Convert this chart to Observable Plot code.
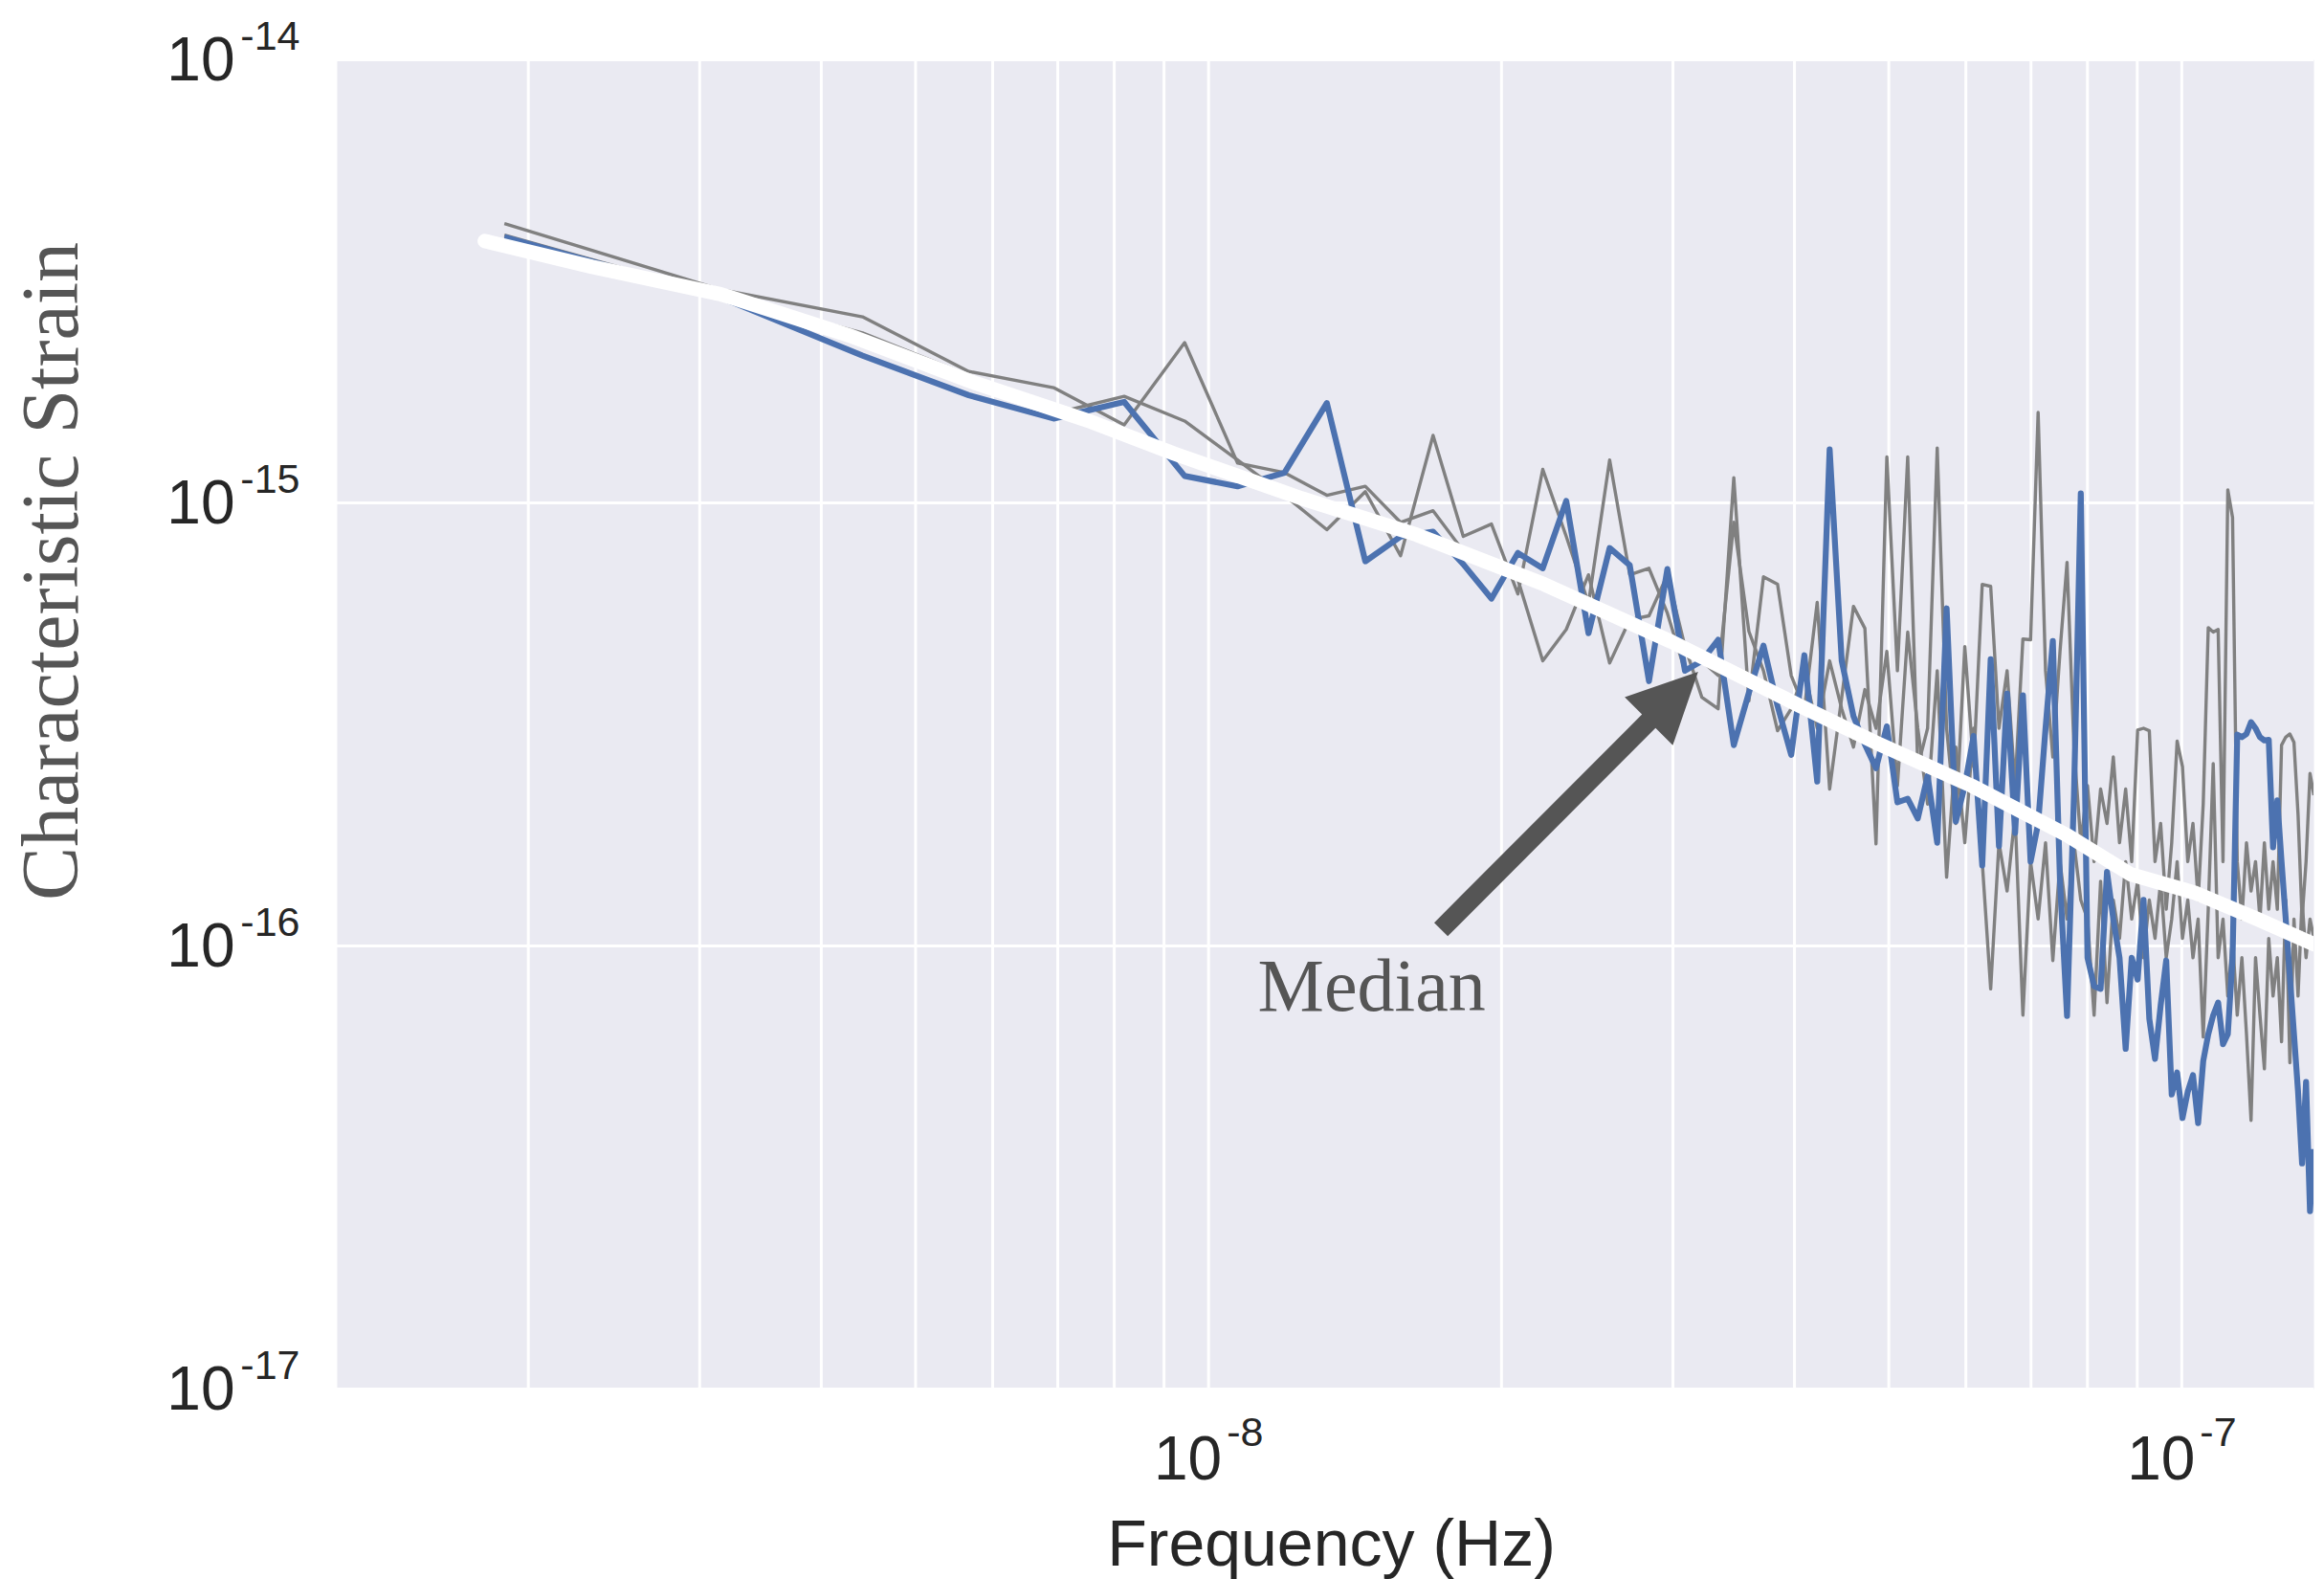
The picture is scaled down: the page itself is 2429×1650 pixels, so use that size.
<!DOCTYPE html>
<html>
<head>
<meta charset="utf-8">
<script src="https://cdn.jsdelivr.net/npm/d3@7"></script>
<script src="https://cdn.jsdelivr.net/npm/@observablehq/plot@0.6"></script>
<style>
  html, body { margin: 0; padding: 0; background: #ffffff; }
  #chart svg { display: block; }
</style>
</head>
<body>
<div id="chart"></div>
<script>
// Frequency bins of the simulated spectra, in nHz
const freqNHz = [
  1.89, 3.15, 4.41, 5.67, 6.93, 8.19, 9.45, 10.71, 11.97, 13.23,
  14.49, 15.75, 17.01, 18.27, 19.53, 20.79, 22.05, 23.31, 24.57, 25.83,
  27.09, 28.35, 29.61, 30.87, 32.13, 33.39, 34.65, 35.91, 37.17, 38.43,
  39.69, 40.95, 42.21, 43.47, 44.73, 45.99, 47.25, 48.51, 49.77, 51.03,
  52.29, 53.55, 54.81, 56.07, 57.33, 58.59, 59.85, 61.11, 62.37, 63.63,
  64.89, 66.15, 67.41, 68.67, 69.93, 71.19, 72.45, 73.71, 74.97, 76.23,
  77.49, 78.75, 80.01, 81.27, 82.53, 83.79, 85.05, 86.31, 87.57, 88.83,
  90.09, 91.35, 92.61, 93.87, 95.13, 96.39, 97.65, 98.91, 100.17, 101.43,
  102.69, 103.95, 105.21, 106.47, 107.73, 108.99, 110.25, 111.51, 112.77, 114.03,
  115.29, 116.55, 117.81, 119.07, 120.33, 121.59, 122.85, 124.11, 125.37, 126.63,
  127.89, 129.15, 130.41, 131.67, 132.93, 134.19, 135.45, 136.71
];

// Characteristic strain of one highlighted realization, in units of 1e-16
const strainBlue = [
  39.8, 29.1, 21.5, 17.5, 15.5, 16.9, 11.5, 10.9, 11.7, 16.8,
  7.38, 8.39, 8.61, 7.27, 6.08, 7.71, 7.12, 10.1, 5.08, 7.91,
  7.23, 3.96, 7.09, 4.18, 4.40, 4.91, 2.84, 3.73, 4.76, 3.48,
  2.70, 4.53, 2.35, 13.2, 4.40, 3.30, 2.85, 2.52, 3.13, 2.11,
  2.15, 1.94, 2.42, 1.71, 5.78, 1.91, 2.30, 2.98, 1.52, 4.44,
  1.68, 3.71, 1.80, 3.68, 1.55, 1.89, 3.10, 4.88, 1.40, 0.695,
  2.19, 10.5, 0.941, 0.811, 0.80, 1.47, 1.15, 0.94, 0.586, 0.94,
  0.84, 1.27, 0.685, 0.556, 0.734, 0.927, 0.462, 0.518, 0.409, 0.469,
  0.511, 0.398, 0.55, 0.632, 0.698, 0.745, 0.60, 0.632, 0.941, 3.0,
  2.96, 3.01, 3.20, 3.10, 2.96, 2.91, 2.92, 1.67, 2.13, 1.55,
  1.15, 0.852, 0.632, 0.469, 0.323, 0.493, 0.252, 0.348
];

// Two further realizations, drawn in gray (units of 1e-16)
const strainGrayA = [
  42.7, 30.3, 26.3, 19.8, 18.2, 15.0, 23.0, 12.3, 11.7, 10.4,
  10.9, 9.04, 9.60, 7.79, 7.48, 6.71, 4.40, 5.18, 6.88, 4.35,
  5.45, 5.56, 6.88, 4.74, 3.64, 3.43, 11.4, 3.57, 6.81, 6.55,
  4.08, 3.43, 5.96, 2.26, 3.64, 5.84, 5.21, 1.70, 12.7, 4.18,
  12.7, 2.54, 3.10, 13.3, 3.10, 1.89, 4.74, 2.54, 6.55, 6.48,
  3.10, 4.18, 2.30, 4.93, 4.91, 16.0, 4.18, 2.67, 4.62, 7.34,
  2.81, 1.71, 2.30, 1.55, 2.26, 1.89, 2.67, 1.71, 2.26, 1.55,
  3.07, 3.10, 3.06, 1.55, 1.89, 1.21, 1.71, 2.90, 2.54, 1.55,
  1.89, 1.27, 2.09, 5.23, 5.11, 5.18, 1.55, 10.7, 9.27, 1.55,
  1.15, 1.71, 1.33, 1.55, 1.15, 1.71, 1.21, 1.55, 1.21, 2.84,
  2.96, 3.01, 2.88, 1.98, 1.15, 1.55, 2.45, 2.19
];
const strainGrayB = [
  40.2, 29.4, 24.2, 19.4, 15.9, 17.4, 15.3, 12.5, 10.4, 8.70,
  10.6, 7.60, 14.2, 8.40, 8.96, 6.23, 11.9, 8.40, 5.93, 12.5,
  6.88, 7.12, 5.64, 4.18, 4.40, 4.08, 9.04, 5.13, 4.18, 3.06,
  3.43, 4.18, 3.10, 4.40, 3.43, 2.81, 3.79, 3.10, 4.62, 2.30,
  5.11, 3.10, 2.09, 4.18, 1.43, 2.81, 1.71, 3.10, 1.55, 0.80,
  1.71, 1.33, 1.98, 0.698, 1.55, 1.15, 1.71, 0.927, 1.55, 1.15,
  1.71, 1.27, 1.15, 0.698, 1.40, 0.745, 1.27, 1.04, 1.55, 1.15,
  1.40, 0.941, 1.27, 1.04, 1.40, 0.941, 1.15, 1.55, 1.04, 1.27,
  0.941, 1.15, 0.623, 1.21, 2.58, 0.941, 1.15, 0.771, 1.04, 0.698,
  0.941, 0.632, 0.404, 0.941, 0.698, 0.528, 1.04, 0.771, 0.941, 0.608,
  1.27, 0.545, 1.15, 0.771, 1.27, 0.941, 1.15, 1.04
];

// Median over realizations (frequency in nHz, strain in units of 1e-16)
const medianFreqNHz = [1.804, 2.327, 3.150, 4.267, 5.772, 7.572, 9.218, 12.46, 16.35, 22.12,
  29.9, 40.45, 48.45, 60.8, 76.2, 88.7, 103, 119.8, 136.7];
const medianStrain = [39.0, 34.1, 29.6, 23.9, 18.6, 15.25, 12.92, 10.24, 8.48, 6.55,
  4.86, 3.49, 2.88, 2.30, 1.78, 1.45, 1.32, 1.148, 1.009];

// Axis ticks and grid
const xTickValues = [1e-8, 1e-7];
const xGridValues = [2e-9, 3e-9, 4e-9, 5e-9, 6e-9, 7e-9, 8e-9, 9e-9,
  1e-8, 2e-8, 3e-8, 4e-8, 5e-8, 6e-8, 7e-8, 8e-8, 9e-8, 1e-7];
const yTickValues = [1e-17, 1e-16, 1e-15, 1e-14];

// Annotation: arrow pointing at the median curve, and its label
const medianArrow = {from: [1.735e-8, 1.087e-16], to: [3.188e-8, 4.147e-16]};
const medianLabel = [{f: 1.471e-8, h: 7.16e-17, text: "Median"}];

const toRows = (name, values) => values.map((v, i) => ({series: name, f: freqNHz[i] * 1e-9, h: v * 1e-16}));
const grayRows = [...toRows("gray A", strainGrayA), ...toRows("gray B", strainGrayB)];
const blueRows = toRows("blue", strainBlue);
const medianRows = medianStrain.map((v, i) => ({f: medianFreqNHz[i] * 1e-9, h: v * 1e-16}));

const sans = "'Liberation Sans', Arial, Helvetica, sans-serif";
const serif = "'Liberation Serif', 'Times New Roman', serif";
const exponent = d => "-" + Math.round(-Math.log10(d));

// Filled arrow (shaft + triangular head) positioned through the plot scales
function arrowMark(index, scales) {
  const x1 = scales.x(medianArrow.from[0]), y1 = scales.y(medianArrow.from[1]);
  const x2 = scales.x(medianArrow.to[0]), y2 = scales.y(medianArrow.to[1]);
  const len = Math.hypot(x2 - x1, y2 - y1);
  const ux = (x2 - x1) / len, uy = (y2 - y1) / len;
  const nx = -uy, ny = ux;
  const headLen = 73, headHalf = 35.5, shaftHalf = 10;
  const bx = x2 - ux * headLen, by = y2 - uy * headLen;
  const pts = [
    [x1 + nx * shaftHalf, y1 + ny * shaftHalf],
    [bx + nx * shaftHalf, by + ny * shaftHalf],
    [bx + nx * headHalf, by + ny * headHalf],
    [x2, y2],
    [bx - nx * headHalf, by - ny * headHalf],
    [bx - nx * shaftHalf, by - ny * shaftHalf],
    [x1 - nx * shaftHalf, y1 - ny * shaftHalf]
  ];
  return d3.create("svg:path")
    .attr("d", "M" + pts.map(p => p.join(",")).join("L") + "Z")
    .attr("fill", "#555555")
    .node();
}

const chart = Plot.plot({
  width: 2429,
  height: 1650,
  marginLeft: 352,
  marginRight: 11,
  marginTop: 62,
  marginBottom: 199,
  style: {background: "#ffffff", fontFamily: sans, overflow: "visible"},
  x: {type: "log", domain: [1.2727e-9, 1.3672e-7], axis: null},
  y: {type: "log", domain: [1e-17, 1e-14], axis: null},
  marks: [
    Plot.frame({fill: "#EAEAF2", stroke: "none"}),
    Plot.ruleX(xGridValues, {stroke: "#ffffff", strokeWidth: 3}),
    Plot.ruleY(yTickValues, {stroke: "#ffffff", strokeWidth: 3}),
    Plot.line(grayRows, {x: "f", y: "h", z: "series", stroke: "#808080", strokeWidth: 3.4,
      strokeLinejoin: "round", strokeLinecap: "butt", clip: true}),
    Plot.line(blueRows, {x: "f", y: "h", stroke: "#4C72B0", strokeWidth: 6.2,
      strokeLinejoin: "round", strokeLinecap: "butt", clip: true}),
    Plot.line(medianRows, {x: "f", y: "h", stroke: "#ffffff", strokeWidth: 15,
      strokeLinejoin: "round", strokeLinecap: "round", clip: true}),
    arrowMark,
    Plot.text(medianLabel, {x: "f", y: "h", text: "text", textAnchor: "middle", lineAnchor: "bottom",
      fontSize: 78, fontFamily: serif, fill: "#555555"}),
    // y tick labels: base and exponent
    Plot.text(yTickValues, {y: d => d, text: () => "10", frameAnchor: "left", dx: -107, dy: 21,
      textAnchor: "end", lineAnchor: "bottom", fontSize: 64, fontFamily: sans, fill: "#262626"}),
    Plot.text(yTickValues, {y: d => d, text: exponent, frameAnchor: "left", dx: -39, dy: -11,
      textAnchor: "end", lineAnchor: "bottom", fontSize: 43, fontFamily: sans, fill: "#262626"}),
    // x tick labels: base and exponent
    Plot.text(xTickValues, {x: d => d, text: () => "10", frameAnchor: "bottom", dx: 14, dy: 94,
      textAnchor: "end", lineAnchor: "bottom", fontSize: 64, fontFamily: sans, fill: "#262626"}),
    Plot.text(xTickValues, {x: d => d, text: exponent, frameAnchor: "bottom", dx: 19, dy: 59,
      textAnchor: "start", lineAnchor: "bottom", fontSize: 43, fontFamily: sans, fill: "#262626"}),
    // axis titles
    Plot.text(["Frequency (Hz)"], {text: d => d, frameAnchor: "bottom", dx: 6, dy: 184,
      textAnchor: "middle", lineAnchor: "bottom", fontSize: 68, fontFamily: sans, fill: "#262626"}),
    Plot.text(["Characteristic Strain"], {text: d => d, frameAnchor: "left", dx: -272, dy: -160,
      rotate: -90, textAnchor: "middle", lineAnchor: "bottom", fontSize: 84, fontFamily: serif, fill: "#555555"})
  ]
});

document.getElementById("chart").appendChild(chart);
</script>
</body>
</html>
